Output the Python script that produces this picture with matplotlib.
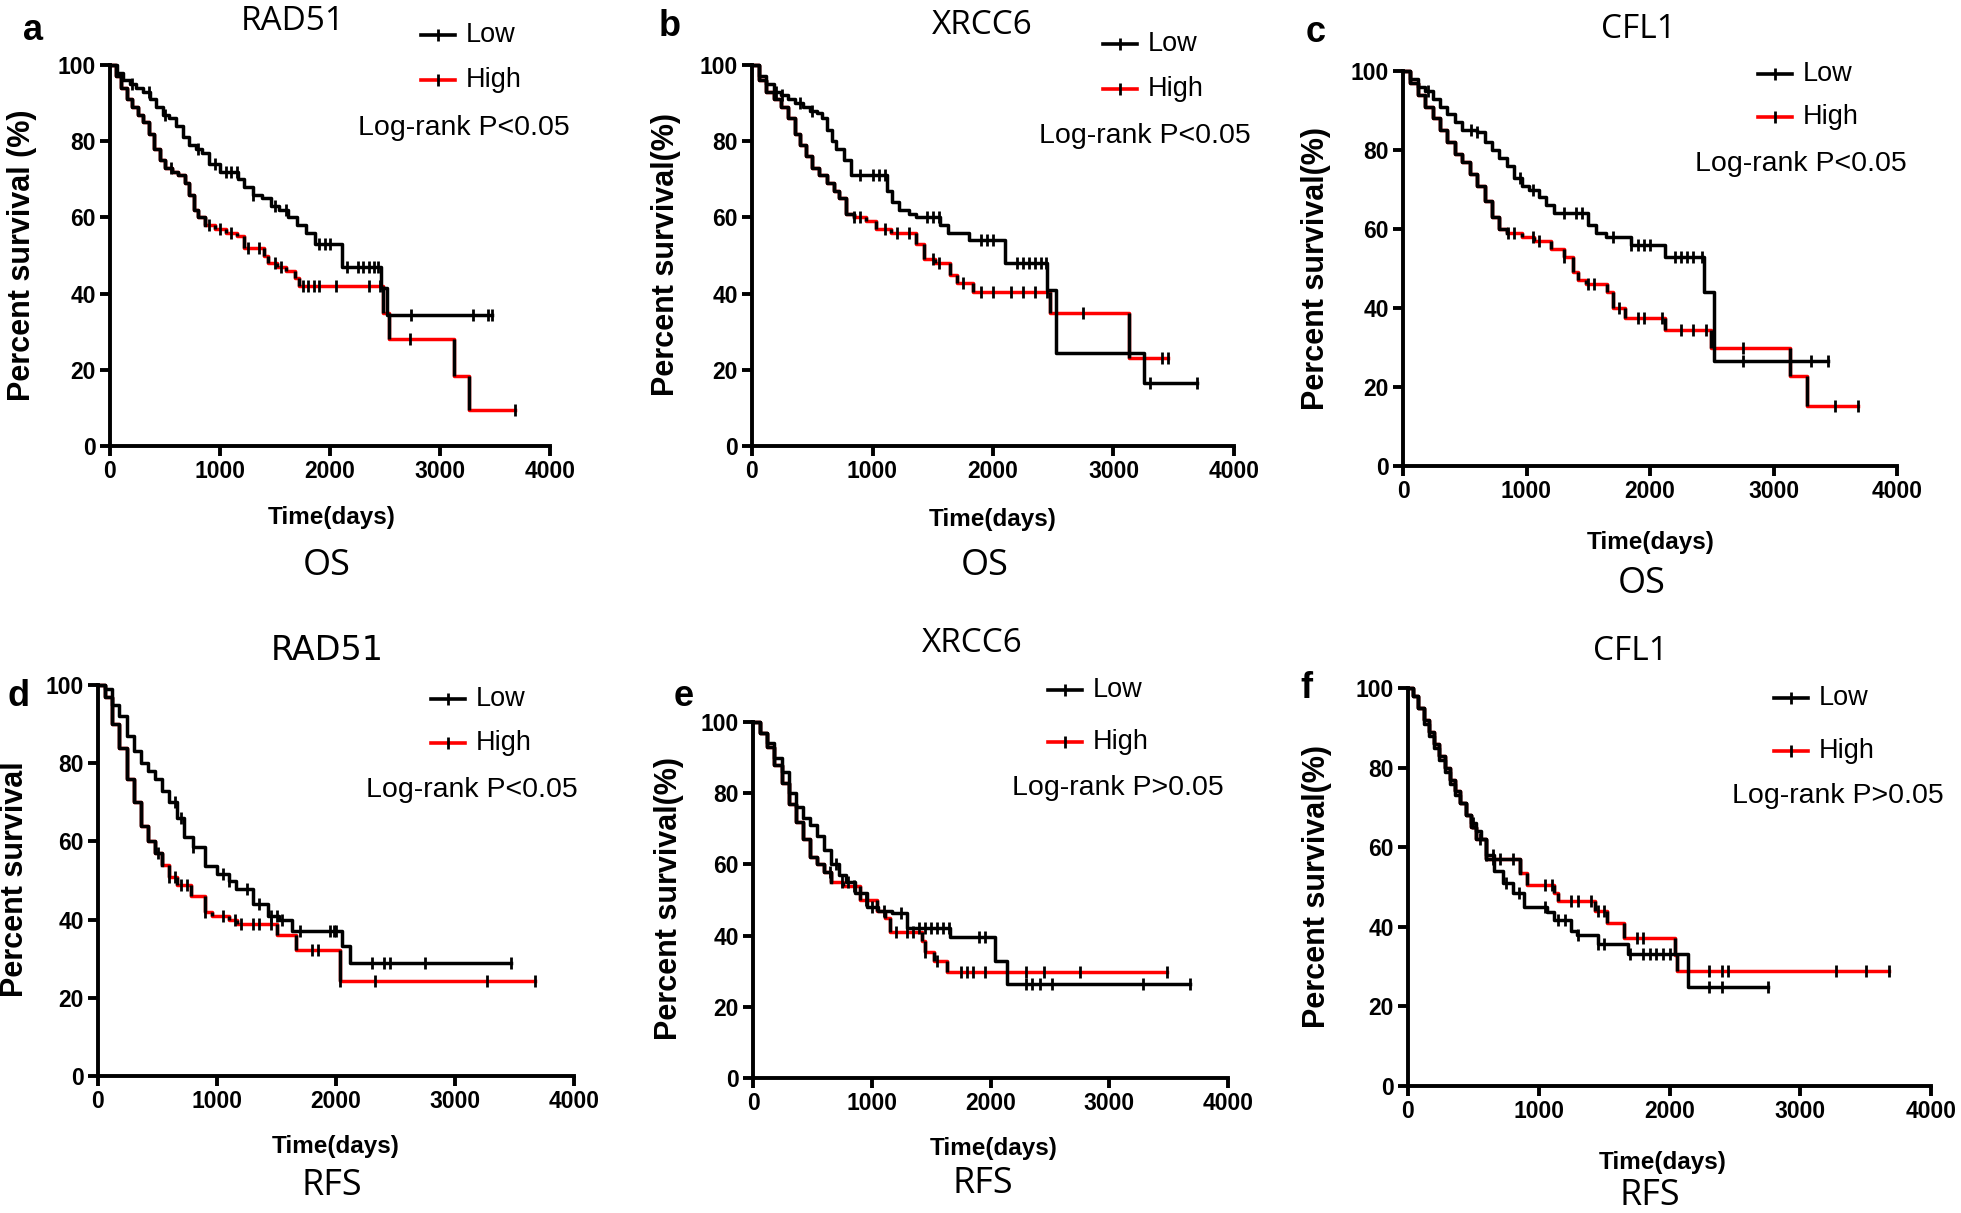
import numpy as np
import matplotlib.pyplot as plt
from matplotlib.lines import Line2D

# ---- data (time in days, survival in %) ----
# a: OS RAD51
a_low_t = [0, 60, 120, 180, 240, 300, 360, 420, 480, 540, 600, 660, 720, 780, 840, 900, 1000, 1100, 1160, 1220, 1300, 1380, 1460, 1540, 1620, 1700, 1780, 1860, 2110, 2460, 2520]
a_low_s = [100, 98, 96, 95, 94, 93, 91, 89, 87, 86, 84, 81, 79, 78, 77, 74, 72, 72, 70, 68, 66, 65, 63, 62, 60, 58, 56, 53, 47, 41.5, 34.5]
a_low_end = 3475
a_low_cens = [200, 350, 500, 800, 950, 1050, 1100, 1150, 1300, 1500, 1600, 1900, 1950, 2000, 2150, 2250, 2300, 2350, 2400, 2440, 2740, 3300, 3440, 3475]
a_high_t = [0, 50, 100, 150, 200, 250, 300, 350, 400, 450, 500, 560, 620, 680, 720, 760, 800, 860, 950, 1050, 1150, 1220, 1400, 1440, 1520, 1600, 1680, 1720, 2480, 2540, 3130, 3260]
a_high_s = [100, 97, 94, 91, 89, 87, 85, 82, 78, 75, 73, 72, 71, 69, 66, 62, 60, 58, 57, 56, 55, 52, 50, 48, 47, 46, 44, 42, 35, 28, 18.5, 9.5]
a_high_end = 3680
a_high_cens = [550, 900, 1000, 1100, 1250, 1350, 1500, 1550, 1750, 1800, 1850, 1900, 2050, 2350, 2450, 2730, 3680]

# b: OS XRCC6
b_low_t = [0, 60, 120, 180, 240, 300, 360, 420, 480, 540, 580, 620, 660, 700, 760, 820, 1120, 1160, 1220, 1300, 1360, 1560, 1630, 1800, 2100, 2450, 2520, 3250]
b_low_s = [100, 97, 95, 93, 92, 91, 90, 89, 88, 87.5, 86, 83, 80, 78, 75, 71, 67, 64, 62, 61, 60, 58, 56, 54, 48, 41, 24.5, 16.5]
b_low_end = 3690
b_low_cens = [200, 250, 400, 500, 900, 1000, 1050, 1100, 1450, 1500, 1550, 1900, 1950, 2000, 2200, 2250, 2300, 2350, 2400, 2440, 3300, 3690]
b_high_t = [0, 60, 120, 180, 240, 300, 360, 400, 450, 500, 560, 620, 680, 720, 780, 850, 950, 1030, 1150, 1360, 1430, 1520, 1640, 1700, 1830, 2475, 3130]
b_high_s = [100, 96, 93, 91, 89, 86, 82, 79, 76, 73, 71, 69, 67, 65, 61, 60, 59, 57, 56, 53, 49, 48, 45, 42.7, 40.5, 35, 23]
b_high_end = 3450
b_high_cens = [850, 900, 1100, 1200, 1300, 1500, 1550, 1750, 1900, 2000, 2150, 2250, 2350, 2450, 2750, 3400, 3450]

# c: OS CFL1
c_low_t = [0, 60, 120, 180, 240, 300, 360, 420, 480, 600, 660, 720, 780, 840, 900, 960, 1020, 1100, 1160, 1220, 1500, 1560, 1640, 1850, 2120, 2440, 2520]
c_low_s = [100, 98, 96, 95, 93, 91, 89, 87, 85, 84.5, 82, 80, 78, 76, 73, 71, 70, 68, 66, 64, 61, 59, 58, 56, 53, 44, 26.5]
c_low_end = 3444
c_low_cens = [200, 550, 600, 950, 1050, 1300, 1400, 1450, 1700, 1850, 1900, 1950, 2000, 2200, 2250, 2300, 2350, 2420, 2750, 3300, 3444]
c_high_t = [0, 60, 120, 180, 240, 300, 360, 420, 480, 540, 600, 660, 720, 780, 840, 960, 1060, 1200, 1300, 1380, 1420, 1480, 1650, 1700, 1800, 2120, 2490, 3130, 3270]
c_high_s = [100, 97, 94, 91, 88, 85, 82, 79, 77, 74, 71, 67, 63, 60, 59, 58, 57, 55, 53, 49, 47, 46, 44, 40, 37.5, 34.5, 30, 22.7, 15.2]
c_high_end = 3687
c_high_cens = [850, 900, 1050, 1100, 1300, 1500, 1550, 1750, 1900, 1950, 2100, 2250, 2350, 2450, 2750, 3500, 3687]

# d: RFS RAD51
d_low_t = [0, 60, 120, 180, 240, 300, 360, 420, 480, 540, 600, 660, 720, 800, 900, 1000, 1100, 1160, 1300, 1430, 1520, 1630, 2050, 2120]
d_low_s = [100, 99, 95, 92, 87, 83, 80, 78, 76, 73, 70, 66, 61, 58.5, 53.6, 51.7, 49.8, 47.8, 44, 41, 40, 37.1, 33.3, 29]
d_low_end = 3472
d_low_cens = [650, 700, 800, 1050, 1100, 1250, 1350, 1450, 1500, 1550, 1700, 1950, 1980, 2000, 2300, 2400, 2450, 2750, 3472]
d_high_t = [0, 60, 120, 180, 240, 300, 360, 420, 480, 540, 600, 660, 780, 900, 960, 1100, 1170, 1500, 1660, 2030]
d_high_s = [100, 97, 90, 84, 76, 70, 64, 60, 57, 54, 51, 48.8, 46, 42, 41, 40, 39, 36, 32.3, 24.3]
d_high_end = 3670
d_high_cens = [500, 600, 650, 700, 750, 900, 1050, 1150, 1200, 1300, 1350, 1450, 1800, 1850, 2030, 2330, 3270, 3670]

# e: RFS XRCC6
e_low_t = [0, 60, 120, 180, 240, 300, 360, 420, 480, 540, 600, 660, 720, 780, 860, 960, 1050, 1170, 1300, 1660, 2040, 2140]
e_low_s = [100, 97, 94, 90, 86, 80, 76, 73, 71, 68, 64, 60, 57, 55, 52, 48, 47, 46.4, 42, 39.6, 32.8, 26.3]
e_low_end = 3680
e_low_cens = [700, 800, 900, 1000, 1100, 1250, 1400, 1450, 1500, 1550, 1600, 1650, 1900, 1950, 2300, 2350, 2420, 2520, 3280, 3680]
e_high_t = [0, 60, 120, 180, 240, 300, 360, 420, 480, 540, 600, 660, 760, 900, 1040, 1110, 1150, 1420, 1450, 1520, 1630]
e_high_s = [100, 97, 93, 88, 83, 77, 72, 67, 62, 60, 58, 55, 54, 50, 47, 45, 41, 38.5, 35.4, 32.8, 29.7]
e_high_end = 3490
e_high_cens = [650, 750, 850, 950, 1200, 1300, 1350, 1450, 1550, 1750, 1800, 1850, 1950, 2300, 2450, 2750, 3490]

# f: RFS CFL1
f_low_t = [0, 40, 80, 120, 160, 200, 240, 280, 320, 360, 400, 440, 480, 520, 560, 600, 660, 730, 800, 890, 1060, 1120, 1250, 1290, 1450, 1680, 2140]
f_low_s = [100, 98, 95, 91, 88, 85, 82, 79, 76, 73, 71, 68, 66, 64, 62, 58, 54, 51, 48.5, 45, 43.7, 41.8, 39, 38, 35.6, 33.2, 25]
f_low_end = 2753
f_low_cens = [500, 600, 650, 750, 850, 1050, 1150, 1200, 1300, 1450, 1500, 1700, 1800, 1850, 1900, 1950, 2000, 2300, 2400, 2753]
f_high_t = [0, 40, 80, 120, 160, 200, 240, 280, 320, 360, 400, 440, 480, 520, 600, 860, 910, 1120, 1150, 1430, 1520, 1650, 2040, 2060]
f_high_s = [100, 98, 95, 92, 89, 86, 83, 80, 77, 74, 71, 68, 65, 62, 57, 53.6, 50.4, 48.5, 46.4, 44, 41, 37.2, 33, 28.8]
f_high_end = 3682
f_high_cens = [550, 650, 700, 800, 1050, 1100, 1250, 1300, 1400, 1450, 1500, 1750, 1800, 2300, 2400, 2450, 3270, 3500, 3682]

letters = ['a', 'b', 'c', 'd', 'e', 'f']
genes = ['RAD51', 'XRCC6', 'CFL1', 'RAD51', 'XRCC6', 'CFL1']
endpoints = ['OS', 'OS', 'OS', 'RFS', 'RFS', 'RFS']
pvals = ['Log-rank P<0.05', 'Log-rank P<0.05', 'Log-rank P<0.05',
         'Log-rank P<0.05', 'Log-rank P>0.05', 'Log-rank P>0.05']
ylabels = ['Percent survival (%)', 'Percent survival(%)', 'Percent survival(%)',
           'Percent survival', 'Percent survival(%)', 'Percent survival(%)']

curves = [
    (a_low_t, a_low_s, a_low_end, a_low_cens, a_high_t, a_high_s, a_high_end, a_high_cens),
    (b_low_t, b_low_s, b_low_end, b_low_cens, b_high_t, b_high_s, b_high_end, b_high_cens),
    (c_low_t, c_low_s, c_low_end, c_low_cens, c_high_t, c_high_s, c_high_end, c_high_cens),
    (d_low_t, d_low_s, d_low_end, d_low_cens, d_high_t, d_high_s, d_high_end, d_high_cens),
    (e_low_t, e_low_s, e_low_end, e_low_cens, e_high_t, e_high_s, e_high_end, e_high_cens),
    (f_low_t, f_low_s, f_low_end, f_low_cens, f_high_t, f_high_s, f_high_end, f_high_cens),
]

# ---- layout (pixel positions in the 1961x1213 picture) ----
W, H = 1961, 1213
# axes box: x at 0, x at 4000, y at 100%, y at 0%
boxes = [(110, 550, 65, 446), (752, 1234, 65, 446), (1403, 1897, 71, 466),
         (98, 574, 685, 1076), (753, 1228, 722, 1078), (1408, 1931, 688, 1086)]
letter_pos = [(33, 31), (670, 27), (1316, 33), (19, 697), (684, 697), (1306, 688)]
title_pos = [(293, 21), (982, 26), (1638, 30), (327, 650), (972, 644), (1630, 652)]
title_font = ['Open Sans', 'Open Sans', 'Open Sans', 'DejaVu Sans', 'Open Sans', 'Open Sans']
# legend: line start x, y of "Low" row, y of "High" row
leg_pos = [(421, 35, 80), (1103, 44, 89), (1758, 74, 117), (431, 699, 743), (1048, 690, 742), (1774, 698, 751)]
logrank_pos = [(464, 128), (1145, 136), (1801, 164), (472, 790), (1118, 788), (1838, 796)]
xlab_pos = [(332, 518), (993, 519), (1651, 542), (336, 1146), (994, 1148), (1663, 1162)]
sub_pos = [(327, 566), (985, 566), (1642, 584), (332, 1186), (983, 1184), (1650, 1196)]
ylab_pos = [(22, 255), (666, 255), (1316, 269), (15, 879), (669, 898), (1317, 887)]
black_until = [800, 800, 800, 500, 650, 600]

plain = ['Liberation Sans', 'DejaVu Sans']


def fx(x):
    return x / W


def fy(y):
    return 1 - y / H


def step_xy(t, s, end):
    return np.append(t, end), np.append(s, s[-1])


def value_at(t, s, c):
    idx = np.searchsorted(t, c, side='right') - 1
    return np.asarray(s)[idx]


fig = plt.figure(figsize=(W / 100, H / 100), dpi=100)
LW = 2.5

for i in range(6):
    x0, x1, yt, yb = boxes[i]
    ax = fig.add_axes([fx(x0), fy(yb), (x1 - x0) / W, (yb - yt) / H])
    lt, ls, lend, lc, ht, hs, hend, hc = curves[i]

    # High group: red steps; drops and the crowded early part look black
    hx, hy = step_xy(ht, hs, hend)
    ax.step(hx, hy, where='post', color='red', lw=LW, clip_on=False, zorder=2)
    n_early = int((np.array(ht) <= black_until[i]).sum())
    ax.step(hx[:n_early + 1], hy[:n_early + 1], where='post', color='black', lw=LW,
            clip_on=False, zorder=3)
    ax.vlines(ht[1:], hs[1:], hs[:-1], color='black', lw=LW, zorder=3)
    ax.plot(hc, value_at(ht, hs, hc), ls='none', marker='|', ms=9, mew=2,
            color='black', zorder=4, clip_on=False)

    # Low group
    lx, ly = step_xy(lt, ls, lend)
    ax.step(lx, ly, where='post', color='black', lw=LW, clip_on=False, zorder=3)
    ax.plot(lc, value_at(lt, ls, lc), ls='none', marker='|', ms=9, mew=2,
            color='black', zorder=4, clip_on=False)

    ax.set_xlim(0, 4000)
    ax.set_ylim(0, 100)
    ax.set_xticks([0, 1000, 2000, 3000, 4000])
    ax.set_yticks([0, 20, 40, 60, 80, 100])
    for sp in ['top', 'right']:
        ax.spines[sp].set_visible(False)
    for sp in ['left', 'bottom']:
        ax.spines[sp].set_linewidth(2.8)
    ax.tick_params(direction='out', length=7, width=2.8, pad=3)
    for lab in ax.get_xticklabels() + ax.get_yticklabels():
        lab.set_family(plain)
        lab.set_fontweight('bold')
        lab.set_fontsize(16.5)
    ax.patch.set_alpha(0)

    # texts
    fig.text(fx(letter_pos[i][0]), fy(letter_pos[i][1]), letters[i], ha='center', va='center',
             fontsize=26, fontweight='bold', family=plain)
    fig.text(fx(title_pos[i][0]), fy(title_pos[i][1]), genes[i], ha='center', va='center',
             fontsize=24, family=[title_font[i], 'DejaVu Sans'])
    fig.text(fx(sub_pos[i][0]), fy(sub_pos[i][1]), endpoints[i], ha='center', va='center',
             fontsize=26, family=['Open Sans', 'DejaVu Sans'])
    fig.text(fx(logrank_pos[i][0]), fy(logrank_pos[i][1]), pvals[i], ha='center', va='center',
             fontsize=20.5, family=plain)
    fig.text(fx(xlab_pos[i][0]), fy(xlab_pos[i][1]), 'Time(days)', ha='center', va='center',
             fontsize=17.5, fontweight='bold', family=plain)
    fig.text(fx(ylab_pos[i][0]), fy(ylab_pos[i][1]), ylabels[i], ha='center', va='center',
             rotation=90, fontsize=22, fontweight='bold', family=plain)

    # legend
    lx0, ly_low, ly_high = leg_pos[i]
    for yy, col, name in [(ly_low, 'black', 'Low'), (ly_high, 'red', 'High')]:
        fig.add_artist(Line2D([fx(lx0), fx(lx0 + 34)], [fy(yy), fy(yy)], color=col, lw=2.6))
        fig.add_artist(Line2D([fx(lx0 + 17)], [fy(yy)], marker='|', ms=9, mew=2,
                              color='black', ls='none'))
        fig.text(fx(lx0 + 45), fy(yy), name, ha='left', va='center', fontsize=19.5, family=plain)

fig.savefig('out.png', dpi=100, facecolor='white')
